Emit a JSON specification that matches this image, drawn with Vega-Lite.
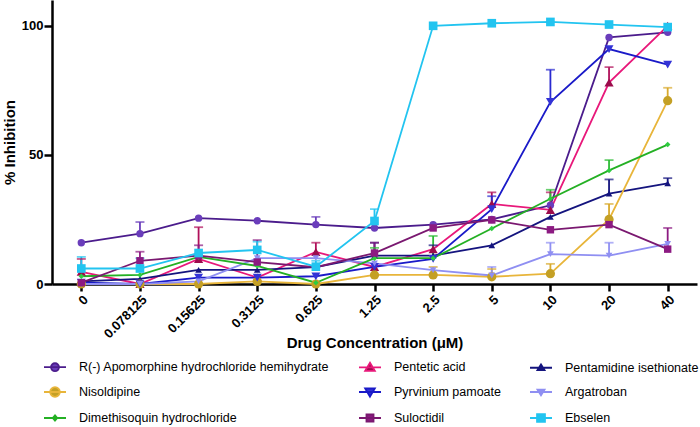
{
  "$schema": "https://vega.github.io/schema/vega-lite/v6.json",
  "autosize": {"type": "none"},
  "width": 645,
  "height": 284,
  "padding": {"left": 52, "top": 0, "right": 3, "bottom": 143},
  "background": "white",
  "config": {
    "view": {"stroke": null},
    "font": "Liberation Sans",
    "axis": {
      "domainColor": "black", "domainWidth": 2.5, "tickColor": "black", "tickWidth": 2.5,
      "labelColor": "black", "labelFont": "Liberation Sans", "labelFontWeight": "bold", "labelFontSize": 13,
      "titleColor": "black", "titleFont": "Liberation Sans", "titleFontWeight": "bold", "titleFontSize": 15,
      "grid": false
    }
  },
  "data": {"values": [
    {"drug": "R(-) Apomorphine hydrochloride hemihydrate", "conc": "0", "value": 16},
    {"drug": "R(-) Apomorphine hydrochloride hemihydrate", "conc": "0.078125", "value": 19.5, "upper": 24},
    {"drug": "R(-) Apomorphine hydrochloride hemihydrate", "conc": "0.15625", "value": 25.5},
    {"drug": "R(-) Apomorphine hydrochloride hemihydrate", "conc": "0.3125", "value": 24.5},
    {"drug": "R(-) Apomorphine hydrochloride hemihydrate", "conc": "0.625", "value": 23, "upper": 26},
    {"drug": "R(-) Apomorphine hydrochloride hemihydrate", "conc": "1.25", "value": 21.7},
    {"drug": "R(-) Apomorphine hydrochloride hemihydrate", "conc": "2.5", "value": 23},
    {"drug": "R(-) Apomorphine hydrochloride hemihydrate", "conc": "5", "value": 25},
    {"drug": "R(-) Apomorphine hydrochloride hemihydrate", "conc": "10", "value": 30.5},
    {"drug": "R(-) Apomorphine hydrochloride hemihydrate", "conc": "20", "value": 95.5},
    {"drug": "R(-) Apomorphine hydrochloride hemihydrate", "conc": "40", "value": 97.5},

    {"drug": "Pentetic acid", "conc": "0", "value": 4.7, "upper": 9.7},
    {"drug": "Pentetic acid", "conc": "0.078125", "value": 0},
    {"drug": "Pentetic acid", "conc": "0.15625", "value": 9.7, "upper": 22},
    {"drug": "Pentetic acid", "conc": "0.3125", "value": 2.5},
    {"drug": "Pentetic acid", "conc": "0.625", "value": 12.4, "upper": 16},
    {"drug": "Pentetic acid", "conc": "1.25", "value": 6.6},
    {"drug": "Pentetic acid", "conc": "2.5", "value": 13.5},
    {"drug": "Pentetic acid", "conc": "5", "value": 31, "upper": 35.5},
    {"drug": "Pentetic acid", "conc": "10", "value": 28.7, "upper": 35.5},
    {"drug": "Pentetic acid", "conc": "20", "value": 78, "upper": 84},
    {"drug": "Pentetic acid", "conc": "40", "value": 100},

    {"drug": "Pentamidine isethionate", "conc": "0", "value": 1},
    {"drug": "Pentamidine isethionate", "conc": "0.078125", "value": 2},
    {"drug": "Pentamidine isethionate", "conc": "0.15625", "value": 5.5},
    {"drug": "Pentamidine isethionate", "conc": "0.3125", "value": 5.5},
    {"drug": "Pentamidine isethionate", "conc": "0.625", "value": 6.5},
    {"drug": "Pentamidine isethionate", "conc": "1.25", "value": 11, "upper": 16},
    {"drug": "Pentamidine isethionate", "conc": "2.5", "value": 11, "upper": 15},
    {"drug": "Pentamidine isethionate", "conc": "5", "value": 15},
    {"drug": "Pentamidine isethionate", "conc": "10", "value": 26},
    {"drug": "Pentamidine isethionate", "conc": "20", "value": 35, "upper": 40.5},
    {"drug": "Pentamidine isethionate", "conc": "40", "value": 39, "upper": 41},

    {"drug": "Nisoldipine", "conc": "0", "value": 0},
    {"drug": "Nisoldipine", "conc": "0.078125", "value": 0},
    {"drug": "Nisoldipine", "conc": "0.15625", "value": 0},
    {"drug": "Nisoldipine", "conc": "0.3125", "value": 1},
    {"drug": "Nisoldipine", "conc": "0.625", "value": 0},
    {"drug": "Nisoldipine", "conc": "1.25", "value": 3.5},
    {"drug": "Nisoldipine", "conc": "2.5", "value": 3.5, "upper": 6.6},
    {"drug": "Nisoldipine", "conc": "5", "value": 2.8, "upper": 5.8},
    {"drug": "Nisoldipine", "conc": "10", "value": 4, "upper": 7.8},
    {"drug": "Nisoldipine", "conc": "20", "value": 25, "upper": 31},
    {"drug": "Nisoldipine", "conc": "40", "value": 71, "upper": 76},

    {"drug": "Pyrvinium pamoate", "conc": "0", "value": 0.5},
    {"drug": "Pyrvinium pamoate", "conc": "0.078125", "value": 0},
    {"drug": "Pyrvinium pamoate", "conc": "0.15625", "value": 2.5},
    {"drug": "Pyrvinium pamoate", "conc": "0.3125", "value": 2.5},
    {"drug": "Pyrvinium pamoate", "conc": "0.625", "value": 3},
    {"drug": "Pyrvinium pamoate", "conc": "1.25", "value": 6.6},
    {"drug": "Pyrvinium pamoate", "conc": "2.5", "value": 9.7},
    {"drug": "Pyrvinium pamoate", "conc": "5", "value": 29, "upper": 34},
    {"drug": "Pyrvinium pamoate", "conc": "10", "value": 70.5, "upper": 83},
    {"drug": "Pyrvinium pamoate", "conc": "20", "value": 91},
    {"drug": "Pyrvinium pamoate", "conc": "40", "value": 85},

    {"drug": "Argatroban", "conc": "0", "value": 0},
    {"drug": "Argatroban", "conc": "0.078125", "value": 0},
    {"drug": "Argatroban", "conc": "0.15625", "value": 1},
    {"drug": "Argatroban", "conc": "0.3125", "value": 10},
    {"drug": "Argatroban", "conc": "0.625", "value": 10},
    {"drug": "Argatroban", "conc": "1.25", "value": 8},
    {"drug": "Argatroban", "conc": "2.5", "value": 5.4},
    {"drug": "Argatroban", "conc": "5", "value": 3.3, "upper": 6.6},
    {"drug": "Argatroban", "conc": "10", "value": 11.6, "upper": 16},
    {"drug": "Argatroban", "conc": "20", "value": 11, "upper": 16},
    {"drug": "Argatroban", "conc": "40", "value": 15.5},

    {"drug": "Dimethisoquin hydrochloride", "conc": "0", "value": 3},
    {"drug": "Dimethisoquin hydrochloride", "conc": "0.078125", "value": 3.5},
    {"drug": "Dimethisoquin hydrochloride", "conc": "0.15625", "value": 10.5},
    {"drug": "Dimethisoquin hydrochloride", "conc": "0.3125", "value": 7},
    {"drug": "Dimethisoquin hydrochloride", "conc": "0.625", "value": 0.5},
    {"drug": "Dimethisoquin hydrochloride", "conc": "1.25", "value": 10, "upper": 14},
    {"drug": "Dimethisoquin hydrochloride", "conc": "2.5", "value": 10, "upper": 18.6},
    {"drug": "Dimethisoquin hydrochloride", "conc": "5", "value": 21.5},
    {"drug": "Dimethisoquin hydrochloride", "conc": "10", "value": 33, "upper": 36.5},
    {"drug": "Dimethisoquin hydrochloride", "conc": "20", "value": 44, "upper": 48},
    {"drug": "Dimethisoquin hydrochloride", "conc": "40", "value": 54},

    {"drug": "Suloctidil", "conc": "0", "value": 0.5},
    {"drug": "Suloctidil", "conc": "0.078125", "value": 9, "upper": 12.5},
    {"drug": "Suloctidil", "conc": "0.15625", "value": 11, "upper": 15},
    {"drug": "Suloctidil", "conc": "0.3125", "value": 8.5, "upper": 17},
    {"drug": "Suloctidil", "conc": "0.625", "value": 6.5},
    {"drug": "Suloctidil", "conc": "1.25", "value": 12, "upper": 16},
    {"drug": "Suloctidil", "conc": "2.5", "value": 21.7},
    {"drug": "Suloctidil", "conc": "5", "value": 24.8},
    {"drug": "Suloctidil", "conc": "10", "value": 21},
    {"drug": "Suloctidil", "conc": "20", "value": 23},
    {"drug": "Suloctidil", "conc": "40", "value": 13.5, "upper": 21.7},

    {"drug": "Ebselen", "conc": "0", "value": 6, "upper": 10.5},
    {"drug": "Ebselen", "conc": "0.078125", "value": 6, "upper": 10},
    {"drug": "Ebselen", "conc": "0.15625", "value": 12},
    {"drug": "Ebselen", "conc": "0.3125", "value": 13.2, "upper": 16.4},
    {"drug": "Ebselen", "conc": "0.625", "value": 6.7, "upper": 9},
    {"drug": "Ebselen", "conc": "1.25", "value": 24.4, "upper": 29},
    {"drug": "Ebselen", "conc": "2.5", "value": 100},
    {"drug": "Ebselen", "conc": "5", "value": 101},
    {"drug": "Ebselen", "conc": "10", "value": 101.5},
    {"drug": "Ebselen", "conc": "20", "value": 100.5},
    {"drug": "Ebselen", "conc": "40", "value": 99.5}
  ]},
  "encoding": {
    "x": {
      "field": "conc", "type": "ordinal",
      "scale": {"type": "point", "padding": 0.5, "domain": ["0", "0.078125", "0.15625", "0.3125", "0.625", "1.25", "2.5", "5", "10", "20", "40"]},
      "axis": {"title": "Drug Concentration (\u03bcM)", "labelAngle": -45, "tickSize": 7, "labelPadding": 2, "titleY": 58, "titleBaseline": "middle"}
    },
    "y": {
      "field": "value", "type": "quantitative",
      "scale": {"domain": [0, 110], "nice": false},
      "axis": {"title": "% Inhibition", "values": [0, 50, 100], "tickSize": 8, "labelPadding": 1, "titlePadding": 4}
    }
  },
  "resolve": {"scale": {"fill": "independent", "shape": "independent", "size": "independent", "stroke": "independent"}},
  "layer": [
    {
      "mark": {"type": "line", "strokeWidth": 1.8},
      "encoding": {
        "stroke": {
          "field": "drug", "type": "nominal", "legend": null,
          "scale": {
            "domain": ["R(-) Apomorphine hydrochloride hemihydrate", "Pentetic acid", "Pentamidine isethionate", "Nisoldipine", "Pyrvinium pamoate", "Argatroban", "Dimethisoquin hydrochloride", "Suloctidil", "Ebselen"],
            "range": ["#4b1c8c", "#e8187a", "#14147e", "#e8b53a", "#1a1ac8", "#8f8ff2", "#24b024", "#7a1870", "#22c4f0"]
          }
        },
        "order": {"value": null}
      }
    },
    {
      "transform": [{"filter": "isValid(datum.upper)"}],
      "mark": {"type": "rule", "strokeWidth": 1.8},
      "encoding": {
        "y2": {"field": "upper"},
        "color": {
          "field": "drug", "type": "nominal", "legend": null,
          "scale": {
            "domain": ["R(-) Apomorphine hydrochloride hemihydrate", "Pentetic acid", "Pentamidine isethionate", "Nisoldipine", "Pyrvinium pamoate", "Argatroban", "Dimethisoquin hydrochloride", "Suloctidil", "Ebselen"],
            "range": ["#6a3dbb", "#b0105a", "#14147e", "#d9aa2c", "#2a2ad0", "#8f8ff2", "#2ebc36", "#8c1a82", "#22c4f0"]
          }
        }
      }
    },
    {
      "transform": [{"filter": "isValid(datum.upper)"}],
      "mark": {"type": "tick", "thickness": 1.8, "size": 9, "orient": "horizontal"},
      "encoding": {
        "y": {"field": "upper", "type": "quantitative"},
        "color": {"field": "drug", "type": "nominal", "legend": null}
      }
    },
    {
      "mark": {"type": "point", "filled": true, "opacity": 1, "strokeWidth": 0},
      "encoding": {
        "fill": {
          "field": "drug", "type": "nominal", "legend": null,
          "scale": {
            "domain": ["R(-) Apomorphine hydrochloride hemihydrate", "Pentetic acid", "Pentamidine isethionate", "Nisoldipine", "Pyrvinium pamoate", "Argatroban", "Dimethisoquin hydrochloride", "Suloctidil", "Ebselen"],
            "range": ["#6a3dbb", "#9c0c4c", "#14147e", "#c4a025", "#3333d6", "#8f8ff2", "#2ecc40", "#8c1a82", "#22c4f0"]
          }
        },
        "shape": {
          "field": "drug", "type": "nominal", "legend": null,
          "scale": {
            "domain": ["R(-) Apomorphine hydrochloride hemihydrate", "Pentetic acid", "Pentamidine isethionate", "Nisoldipine", "Pyrvinium pamoate", "Argatroban", "Dimethisoquin hydrochloride", "Suloctidil", "Ebselen"],
            "range": ["circle", "triangle-up", "triangle-up", "circle", "triangle-down", "triangle-down", "diamond", "square", "square"]
          }
        },
        "size": {
          "field": "drug", "type": "nominal", "legend": null,
          "scale": {
            "type": "ordinal",
            "domain": ["R(-) Apomorphine hydrochloride hemihydrate", "Pentetic acid", "Pentamidine isethionate", "Nisoldipine", "Pyrvinium pamoate", "Argatroban", "Dimethisoquin hydrochloride", "Suloctidil", "Ebselen"],
            "range": [55, 85, 45, 85, 80, 45, 30, 55, 75]
          }
        }
      }
    },
    {
      "transform": [{"filter": "datum.value < -1000"}],
      "mark": {"type": "point", "filled": true, "opacity": 1},
      "encoding": {
        "fill": {
          "field": "drug", "type": "nominal",
          "scale": {
            "domain": ["R(-) Apomorphine hydrochloride hemihydrate", "Pentetic acid", "Pentamidine isethionate", "Nisoldipine", "Pyrvinium pamoate", "Argatroban", "Dimethisoquin hydrochloride", "Suloctidil", "Ebselen"],
            "range": ["#6a3dbb", "#9c0c4c", "#14147e", "#c4a025", "#3333d6", "#8f8ff2", "#2ecc40", "#8c1a82", "#22c4f0"]
          },
          "legend": {
            "title": null, "orient": "none", "legendX": -9, "legendY": 355, "direction": "horizontal", "columns": 3,
            "columnPadding": 25, "rowPadding": 5, "padding": 0, "symbolSize": 484, "symbolStrokeWidth": 1.8, "symbolOpacity": 1,
            "labelFont": "Liberation Sans", "labelFontSize": 12.5, "labelColor": "black", "labelOffset": 12, "labelLimit": 400
          }
        },
        "stroke": {
          "field": "drug", "type": "nominal",
          "scale": {
            "domain": ["R(-) Apomorphine hydrochloride hemihydrate", "Pentetic acid", "Pentamidine isethionate", "Nisoldipine", "Pyrvinium pamoate", "Argatroban", "Dimethisoquin hydrochloride", "Suloctidil", "Ebselen"],
            "range": ["#4b1c8c", "#e8187a", "#14147e", "#e8b53a", "#1a1ac8", "#8f8ff2", "#24b024", "#7a1870", "#22c4f0"]
          }
        },
        "shape": {
          "field": "drug", "type": "nominal",
          "scale": {
            "domain": ["R(-) Apomorphine hydrochloride hemihydrate", "Pentetic acid", "Pentamidine isethionate", "Nisoldipine", "Pyrvinium pamoate", "Argatroban", "Dimethisoquin hydrochloride", "Suloctidil", "Ebselen"],
            "range": [
              "M-1,0H1M0.36,0A0.36,0.36 0 1,1 -0.36,0A0.36,0.36 0 1,1 0.36,0Z",
              "M-1,0H1M0,-0.42L0.44,0.32L-0.44,0.32Z",
              "M-1,0H1M0,-0.3L0.32,0.22L-0.32,0.22Z",
              "M-1,0H1M0.44,0A0.44,0.44 0 1,1 -0.44,0A0.44,0.44 0 1,1 0.44,0Z",
              "M-1,0H1M0,0.42L0.44,-0.32L-0.44,-0.32Z",
              "M-1,0H1M0,0.3L0.32,-0.22L-0.32,-0.22Z",
              "M-1,0H1M0,-0.24L0.2,0L0,0.24L-0.2,0Z",
              "M-1,0H1M-0.32,-0.32H0.32V0.32H-0.32Z",
              "M-1,0H1M-0.36,-0.36H0.36V0.36H-0.36Z"
            ]
          }
        }
      }
    }
  ]
}
